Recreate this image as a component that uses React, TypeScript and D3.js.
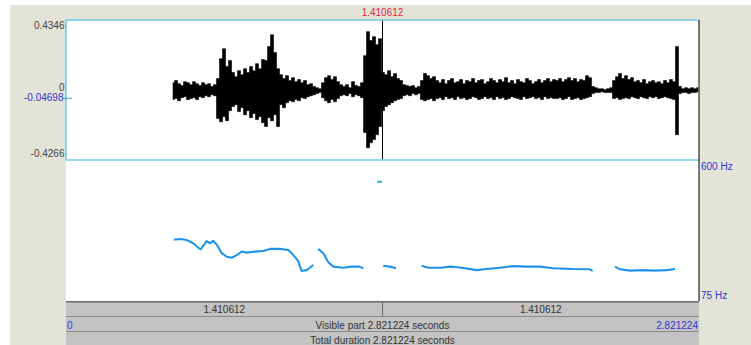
import React from "react";
import * as d3 from "d3";

// Sound editor view: waveform on top, pitch contour below, time bars at the bottom.
const totalDuration = 2.821224;
const cursorTime = 1.410612;
const ampRange = [-0.4266, 0.4346];
const ampMarker = -0.04698;
const pitchRange = [75, 600];

// Waveform envelope, one column per step (s) starting at wfStart
const wfStart = 0.477;
const wfStep = 0.01337;
const wfUpper = [
  0.049, 0.062, 0.043, 0.031, 0.055, 0.049, 0.037, 0.055, 0.043, 0.031, 0.049, 0.037, 0.043, 0.025, 0.037,
  0.074, 0.197, 0.258, 0.148, 0.185,
  0.111, 0.086, 0.123, 0.098, 0.135, 0.111, 0.148, 0.123, 0.166, 0.135, 0.191,
  0.185, 0.271, 0.344, 0.234, 0.135,
  0.098, 0.074, 0.092, 0.062, 0.080, 0.055, 0.068, 0.049, 0.062, 0.037, 0.043, 0.025, 0.018,
  0.012,
  0.049, 0.080, 0.092, 0.068, 0.086, 0.055, 0.037,
  0.025, 0.037, 0.018, 0.055, 0.031, 0.025, 0.049,
  0.215, 0.363, 0.308, 0.332, 0.283, 0.320, 0.111,
  0.098, 0.123, 0.086, 0.105, 0.074, 0.062,
  0.037, 0.031, 0.025, 0.031, 0.018, 0.025,
  0.062, 0.105, 0.092, 0.074, 0.086, 0.062,
  0.049, 0.068, 0.043, 0.062, 0.074, 0.049, 0.055, 0.068, 0.043, 0.062, 0.055, 0.074, 0.049, 0.062, 0.068,
  0.043, 0.055, 0.074, 0.062, 0.049, 0.068, 0.055, 0.080, 0.049, 0.062, 0.043, 0.068, 0.055, 0.049, 0.074,
  0.062, 0.043, 0.055, 0.068, 0.049, 0.062, 0.074, 0.055, 0.068,
  0.062, 0.074, 0.055, 0.068, 0.080, 0.062, 0.074, 0.055, 0.068, 0.062, 0.092, 0.080,
  0.025, 0.018, 0.012, 0.012, 0.006, 0.012, 0.018,
  0.062, 0.086, 0.105, 0.074, 0.092, 0.068, 0.080, 0.055, 0.062, 0.049, 0.068, 0.043, 0.055, 0.062, 0.049,
  0.055, 0.043, 0.062, 0.049, 0.068, 0.055,
  0.271,
  0.025, 0.012, 0.018, 0.012, 0.018, 0.012, 0.018,
];
const wfLower = [
  -0.055, -0.049, -0.062, -0.043, -0.037, -0.055, -0.049, -0.043, -0.055, -0.037, -0.043, -0.031, -0.037, -0.025, -0.031,
  -0.172, -0.191, -0.160, -0.185, -0.123,
  -0.098, -0.086, -0.129, -0.105, -0.148, -0.123, -0.166, -0.141, -0.178, -0.160, -0.197,
  -0.221, -0.166, -0.185, -0.148, -0.221,
  -0.086, -0.105, -0.074, -0.062, -0.068, -0.055, -0.062, -0.043, -0.049, -0.037, -0.031, -0.025, -0.018,
  -0.012,
  -0.043, -0.062, -0.074, -0.055, -0.068, -0.049, -0.031,
  -0.025, -0.031, -0.018, -0.037, -0.025, -0.031, -0.043,
  -0.258, -0.351, -0.320, -0.301, -0.271, -0.221, -0.123,
  -0.098, -0.086, -0.074, -0.062, -0.055, -0.049,
  -0.031, -0.025, -0.031, -0.018, -0.025, -0.018,
  -0.055, -0.062, -0.055, -0.049, -0.062, -0.049,
  -0.043, -0.055, -0.037, -0.049, -0.043, -0.055, -0.037, -0.049, -0.043, -0.055, -0.049, -0.037, -0.043, -0.055, -0.049,
  -0.037, -0.049, -0.043, -0.055, -0.037, -0.049, -0.043, -0.055, -0.049, -0.037, -0.043, -0.049, -0.055, -0.037, -0.049,
  -0.043, -0.037, -0.049, -0.043, -0.055, -0.037, -0.049, -0.043, -0.049,
  -0.049, -0.043, -0.055, -0.049, -0.037, -0.055, -0.049, -0.043, -0.055, -0.049, -0.043, -0.037,
  -0.018, -0.012, -0.012, -0.006, -0.012, -0.012, -0.012,
  -0.049, -0.043, -0.055, -0.049, -0.043, -0.049, -0.037, -0.043, -0.049, -0.037, -0.043, -0.049, -0.037, -0.043, -0.037,
  -0.049, -0.043, -0.037, -0.043, -0.049, -0.055,
  -0.271,
  -0.018, -0.012, -0.012, -0.018, -0.012, -0.012, -0.006,
];

// Pitch contours as [time (s), frequency (Hz)]
const pitchRun1 = [
  [0.481, 303], [0.508, 306], [0.538, 302], [0.567, 290], [0.6, 267], [0.627, 298], [0.642, 290],
  [0.656, 299], [0.674, 283], [0.694, 253], [0.716, 240], [0.739, 236], [0.761, 246], [0.783, 259],
  [0.805, 255], [0.842, 259], [0.879, 261], [0.909, 269], [0.954, 269], [0.991, 265], [1.013, 246],
  [1.035, 224], [1.043, 203], [1.05, 187], [1.073, 190], [1.102, 209],
];
const pitchRun2 = [
  [1.124, 269], [1.147, 253], [1.169, 219], [1.191, 203], [1.236, 199], [1.273, 203], [1.307, 203], [1.325, 197],
];
const pitchBlip = [[1.387, 519], [1.408, 519]];
const pitchRun3 = [[1.414, 206], [1.444, 203], [1.471, 197]];
const pitchRun4 = [
  [1.585, 206], [1.615, 199], [1.667, 199], [1.711, 203], [1.756, 200], [1.83, 190], [1.875, 194],
  [1.934, 199], [1.994, 205], [2.053, 203], [2.113, 203], [2.172, 197], [2.261, 194], [2.335, 193], [2.347, 187],
];
const pitchRun5 = [
  [2.447, 203], [2.469, 193], [2.514, 188], [2.573, 190], [2.618, 188], [2.677, 190], [2.714, 194],
];

const fmt = (v: number) => String(+v.toFixed(6));
const FONT = "'Liberation Sans', Arial, sans-serif";

export default function App() {
  const left = 66, right = 699;
  const waveTop = 20, waveBottom = 160, pitchBottom = 301;
  const x = d3.scaleLinear().domain([0, totalDuration]).range([left, right]);
  const yWave = d3.scaleLinear().domain(ampRange).range([waveBottom, waveTop]);
  const yPitch = d3.scaleLinear().domain(pitchRange).range([pitchBottom, waveBottom]);

  const cols = wfUpper.map((u, i) => ({ t: wfStart + i * wfStep, hi: u, lo: wfLower[i] }));
  const wave = d3
    .area<{ t: number; hi: number; lo: number }>()
    .curve(d3.curveStep)
    .x((d) => x(d.t))
    .y0((d) => yWave(d.lo))
    .y1((d) => yWave(d.hi));

  const line = d3
    .line<number[]>()
    .x((d) => x(d[0]))
    .y((d) => yPitch(d[1]));
  const runs = [pitchRun1, pitchRun2, pitchRun3, pitchRun4, pitchRun5];

  const mid = (left + right) / 2;
  const beige = "#e3e3d7";
  const cyan = "#72c8ef";
  const barFill = "#c3c3c3";

  return (
    <svg
      width={751}
      height={345}
      style={{ position: "absolute", left: 0, top: 0, background: "#fff" }}
      fontFamily={FONT}
      fontSize={10}
    >
      <rect x={10} y={5} width={741} height={340} fill={beige} />
      {/* drawing area */}
      <rect x={left} y={waveTop} width={right - left} height={pitchBottom - waveTop} fill="#fff" />

      {/* waveform */}
      <path d={wave(cols) || ""} fill="#000" stroke="#000" strokeWidth={0.6} />

      {/* cursor */}
      <line x1={x(cursorTime)} x2={x(cursorTime)} y1={waveTop} y2={waveBottom} stroke="#000" strokeWidth={1} />
      <text x={x(cursorTime)} y={16} textAnchor="middle" fill="#e0283c">
        {fmt(cursorTime)}
      </text>

      {/* pitch */}
      {runs.map((r, i) => (
        <g key={i}>
          <path d={line(r) || ""} fill="none" stroke="#1ea8f0" strokeWidth={2.1} strokeLinejoin="round" />
          <path d={line(r) || ""} fill="none" stroke="#2d4fdc" strokeWidth={0.9} opacity={0.5} />
        </g>
      ))}
      <path d={line(pitchBlip) || ""} fill="none" stroke="#1ea8f0" strokeWidth={2} />

      {/* frame */}
      <line x1={left} x2={right} y1={waveTop} y2={waveTop} stroke={cyan} strokeWidth={1.6} />
      <line x1={left} x2={right} y1={waveBottom} y2={waveBottom} stroke={cyan} strokeWidth={1.6} />
      <line x1={left} x2={left} y1={waveTop} y2={waveBottom} stroke={cyan} strokeWidth={1.6} />
      <line x1={right} x2={right} y1={waveTop} y2={pitchBottom} stroke="#000" strokeWidth={1} />

      {/* amplitude labels */}
      <g fill="#444" textAnchor="end">
        <text x={64.5} y={29}>{fmt(ampRange[1])}</text>
        <text x={64.5} y={91}>0</text>
        <text x={64.5} y={157}>{fmt(ampRange[0])}</text>
      </g>
      <text x={63.5} y={101} textAnchor="end" fill="#3434d0">{fmt(ampMarker)}</text>
      <line x1={63} x2={72} y1={yWave(ampMarker)} y2={yWave(ampMarker)} stroke="#3aa6e8" strokeWidth={1} />

      {/* pitch range labels */}
      <text x={701} y={169.5} fill="#3434d0">{pitchRange[1]} Hz</text>
      <text x={701} y={298.5} fill="#3434d0">{pitchRange[0]} Hz</text>

      {/* time bars */}
      <rect x={left} y={301} width={right - left} height={44} fill={barFill} />
      <line x1={left} x2={right} y1={301.8} y2={301.8} stroke="#6a6a6a" strokeWidth={1.6} />
      <line x1={left} x2={right} y1={316.5} y2={316.5} stroke="#8a8a8a" strokeWidth={1} />
      <line x1={left} x2={right} y1={331.5} y2={331.5} stroke="#8a8a8a" strokeWidth={1} />
      <line x1={mid} x2={mid} y1={302} y2={316} stroke="#6a6a6a" strokeWidth={1} />
      <g fill="#333" textAnchor="middle">
        <text x={(left + mid) / 2} y={312.5}>{fmt(cursorTime)}</text>
        <text x={(mid + right) / 2} y={312.5}>{fmt(totalDuration - cursorTime)}</text>
        <text x={mid} y={328.5}>Visible part {fmt(totalDuration)} seconds</text>
        <text x={mid} y={343.5}>Total duration {fmt(totalDuration)} seconds</text>
      </g>
      <text x={67} y={328.5} fill="#3434d0">0</text>
      <text x={698} y={328.5} fill="#3434d0" textAnchor="end">{fmt(totalDuration)}</text>
    </svg>
  );
}
